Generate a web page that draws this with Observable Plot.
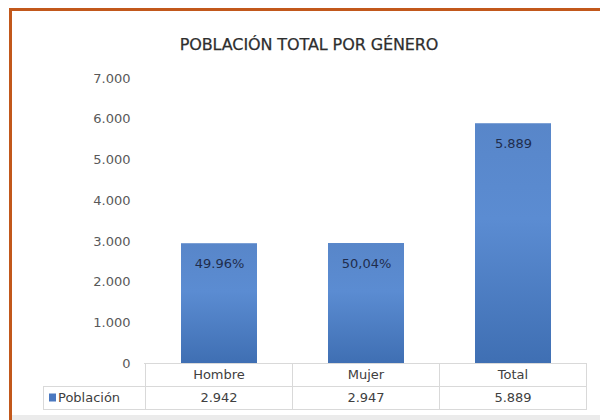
<!DOCTYPE html>
<html>
<head>
<meta charset="utf-8">
<script src="https://cdn.jsdelivr.net/npm/d3@7"></script>
<script src="https://cdn.jsdelivr.net/npm/@observablehq/plot@0.6"></script>
<style>
  html, body { margin: 0; padding: 0; background: #ffffff; }
  #wrap { position: relative; width: 600px; height: 420px; overflow: hidden; background: #ffffff; }
  #borde { position: absolute; left: 9px; top: 8px; right: -4px; bottom: -4px; border-top: 3px solid #c2581b; border-left: 3px solid #c2581b; }
  #pie { position: absolute; left: 12px; right: 0; bottom: 0; height: 5px; background: #ebebeb; }
  #titulo { position: absolute; left: 9px; width: 600px; top: 35px; text-align: center; font-family: "DejaVu Sans", sans-serif; font-size: 16px; color: #2e2e2e; letter-spacing: -0.1px; -webkit-text-stroke: 0.25px #2e2e2e; }
  #chart { position: absolute; left: 0; top: 0; }
</style>
</head>
<body>
<div id="wrap">
  <div id="borde"></div>
  <div id="pie"></div>
  <div id="chart"></div>
  <div id="titulo"></div>
</div>
<script>
const titulo = "POBLACIÓN TOTAL POR GÉNERO";
const serie = "Población";
const categorias = ["Hombre", "Mujer", "Total"];
const poblacion = [2942, 2947, 5889];
const etiquetas = ["49.96%", "50,04%", "5.889"];
const valoresTabla = ["2.942", "2.947", "5.889"];
const yTicks = [0, 1000, 2000, 3000, 4000, 5000, 6000, 7000];

const datos = categorias.map((c, i) => ({categoria: c, poblacion: poblacion[i], etiqueta: etiquetas[i], valor: valoresTabla[i]}));

const loc = d3.formatLocale({decimal: ",", thousands: ".", grouping: [3], currency: ["", ""]});
const fmt = loc.format(",d");

document.getElementById("titulo").textContent = titulo;

const FONT = "DejaVu Sans, sans-serif";
const GRID = "#d9d9d9";

function tabla(index, scales, values, dims) {
  const {x, y} = scales;
  const step = x.step();
  const bw = x.bandwidth();
  const top = y(0);
  const rowH = 23;
  const left = dims.marginLeft;
  const right = dims.width - dims.marginRight;
  const legendLeft = 43;
  const g = d3.create("svg:g");
  const line = (x1, y1, x2, y2) => g.append("line")
    .attr("x1", x1).attr("y1", y1).attr("x2", x2).attr("y2", y2)
    .attr("stroke", GRID).attr("stroke-width", 1).attr("shape-rendering", "crispEdges");
  line(left, top, right, top);
  line(legendLeft, top + rowH, right, top + rowH);
  line(legendLeft, top + 2 * rowH, right, top + 2 * rowH);
  line(legendLeft, top + rowH, legendLeft, top + 2 * rowH);
  const bounds = categorias.map(c => x(c) + bw / 2 - step / 2);
  bounds.push(x(categorias[categorias.length - 1]) + bw / 2 + step / 2);
  bounds.forEach(b => line(b, top, b, top + 2 * rowH));
  datos.forEach(d => {
    const cx = x(d.categoria) + bw / 2;
    g.append("text").attr("x", cx).attr("y", top + rowH / 2).attr("dy", "0.35em")
      .attr("text-anchor", "middle").attr("fill", "#404040")
      .style("font", "13px " + FONT).text(d.categoria);
    g.append("text").attr("x", cx).attr("y", top + rowH * 1.5).attr("dy", "0.35em")
      .attr("text-anchor", "middle").attr("fill", "#404040")
      .style("font", "13px " + FONT).text(d.valor);
  });
  g.append("rect").attr("x", legendLeft + 6).attr("y", top + rowH * 1.5 - 4)
    .attr("width", 7).attr("height", 8).attr("fill", "#4a78c0");
  g.append("text").attr("x", legendLeft + 15).attr("y", top + rowH * 1.5).attr("dy", "0.35em")
    .attr("text-anchor", "start")
    .attr("fill", "#404040").style("font", "13px " + FONT).text(serie);
  return g.node();
}

const chart = Plot.plot({
  width: 600,
  height: 420,
  marginTop: 78,
  marginBottom: 57,
  marginLeft: 144,
  marginRight: 13,
  style: {fontFamily: FONT, fontSize: "13px", color: "#595959", background: "transparent"},
  x: {domain: categorias, paddingInner: 0.485, paddingOuter: 0.2425, axis: null},
  y: {domain: [0, 7000]},
  marks: [
    Plot.axisY({ticks: yTicks, tickFormat: fmt, tickSize: 0, tickPadding: 14, label: null, fill: "#595959"}),
    Plot.barY(datos, {x: "categoria", y: "poblacion", fill: "url(#gradBarra)"}),
    Plot.text(datos, {x: "categoria", y: "poblacion", text: "etiqueta", dy: 20, fill: "#1f2d4d", fontSize: 13}),
    tabla
  ]
});

const svg = d3.select(chart);
const defs = svg.insert("defs", ":first-child");
const grad = defs.append("linearGradient").attr("id", "gradBarra")
  .attr("x1", 0).attr("y1", 0).attr("x2", 0).attr("y2", 1);
grad.append("stop").attr("offset", "0%").attr("stop-color", "#5886c9");
grad.append("stop").attr("offset", "40%").attr("stop-color", "#5b8cd2");
grad.append("stop").attr("offset", "100%").attr("stop-color", "#3f6fb3");

document.getElementById("chart").appendChild(chart);
</script>
</body>
</html>
